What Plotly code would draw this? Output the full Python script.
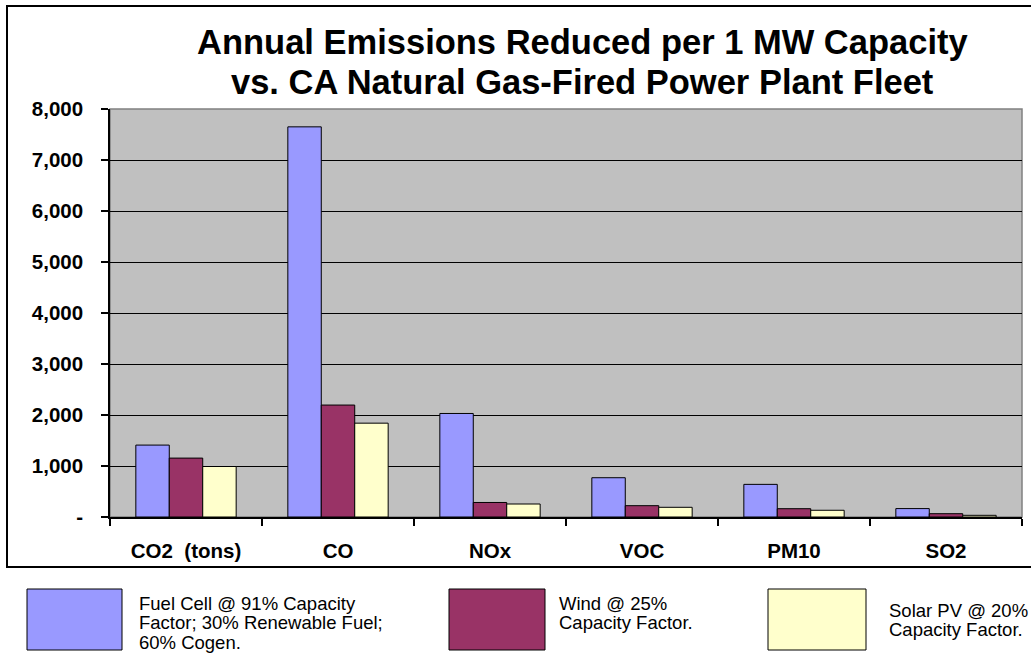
import plotly.graph_objects as go

# ---- data ----
categories = ["CO2  (tons)", "CO", "NOx", "VOC", "PM10", "SO2"]
fuel_cell = [1410, 7650, 2030, 770, 640, 165]
wind = [1155, 2195, 285, 222, 163, 65]
solar = [990, 1840, 255, 190, 132, 33]

series_names = [
    "Fuel Cell @ 91% Capacity<br>Factor; 30% Renewable Fuel;<br>60% Cogen.",
    "Wind @ 25%<br>Capacity Factor.",
    "Solar PV @ 20%<br>Capacity Factor.",
]
series_colors = ["#9999FF", "#993366", "#FFFFCC"]

y_tickvals = [0, 1000, 2000, 3000, 4000, 5000, 6000, 7000, 8000]
y_ticktext = ["-", "1,000", "2,000", "3,000", "4,000", "5,000", "6,000", "7,000", "8,000"]

title_lines = ["Annual Emissions Reduced per 1 MW Capacity",
               "vs. CA Natural Gas-Fired Power Plant Fleet"]

# ---- layout geometry (page pixels; body margin removed below) ----
W, H = 1031, 654
L, R, T, B = 110, 1022, 109, 517      # plot area in page pixels
FONT = "Liberation Sans, Arial, sans-serif"


def px(xp):
    return (xp - L) / (R - L)


def py(yp):
    return (B - yp) / (B - T)


fig = go.Figure()
for name, vals, col in zip(series_names, [fuel_cell, wind, solar], series_colors):
    fig.add_trace(go.Bar(
        x=categories, y=vals, name=name.replace("<br>", " "),
        marker=dict(color=col, line=dict(color="black", width=1)),
        showlegend=False,
    ))

shapes = []
annotations = []

# outer frame
shapes.append(dict(type="rect", xref="paper", yref="paper",
                   x0=px(7), x1=px(1045), y0=py(567), y1=py(6),
                   line=dict(color="black", width=2), fillcolor="rgba(0,0,0,0)",
                   layer="below"))
# plot-area border (grey)
shapes.append(dict(type="rect", xref="paper", yref="paper",
                   x0=0, x1=1, y0=0, y1=1,
                   line=dict(color="#808080", width=1.5), fillcolor="rgba(0,0,0,0)",
                   layer="below"))

# title
for line, yc in zip(title_lines, [42, 82]):
    annotations.append(dict(text="<b>" + line + "</b>", xref="paper", yref="paper",
                            x=px(582), y=py(yc), xanchor="center", yanchor="middle",
                            showarrow=False,
                            font=dict(family=FONT, size=34.5, color="black")))

# legend
legend_boxes = [(27, 122), (449, 545), (768, 866)]
legend_text_x = [137, 557, 887]
legend_text_y0 = [603, 603, 610]
for name, col, (bx0, bx1), tx, ty0 in zip(series_names, series_colors, legend_boxes,
                                          legend_text_x, legend_text_y0):
    shapes.append(dict(type="rect", xref="paper", yref="paper",
                       x0=px(bx0), x1=px(bx1), y0=py(650), y1=py(589),
                       line=dict(color="black", width=1), fillcolor=col))
    for i, ln in enumerate(name.split("<br>")):
        annotations.append(dict(text=ln, xref="paper", yref="paper",
                                x=px(tx), y=py(ty0 + 19.5 * i), xanchor="left", yanchor="middle",
                                showarrow=False,
                                font=dict(family=FONT, size=18.5, color="black")))

fig.update_layout(
    width=W, height=H,
    margin=dict(l=L, r=W - R, t=T, b=H - B, pad=0),
    paper_bgcolor="white", plot_bgcolor="#C0C0C0",
    barmode="group", bargap=0.34, bargroupgap=0,
    shapes=shapes, annotations=annotations,
    font=dict(family=FONT, color="black"),
)
fig.update_xaxes(
    type="category", tickson="boundaries", ticks="outside", ticklen=7,
    tickcolor="black", tickwidth=1.5,
    showline=True, linecolor="black", linewidth=1.5,
    showgrid=False,
    tickfont=dict(family=FONT, size=20.5, color="black", weight="bold"),
    ticklabelstandoff=15,
)
fig.update_yaxes(
    range=[0, 8000], tickvals=y_tickvals, ticktext=y_ticktext,
    ticks="outside", ticklen=7, tickcolor="black", tickwidth=1.5,
    showline=True, linecolor="black", linewidth=1.5,
    showgrid=True, gridcolor="black", gridwidth=1.4,
    zeroline=False,
    tickfont=dict(family=FONT, size=20.5, color="black", weight="bold"),
    ticklabelstandoff=14,
)

fig.write_html(
    "out.html",
    config={"displayModeBar": False},
    post_script="document.body.style.margin='0';document.body.style.overflow='hidden';",
)
